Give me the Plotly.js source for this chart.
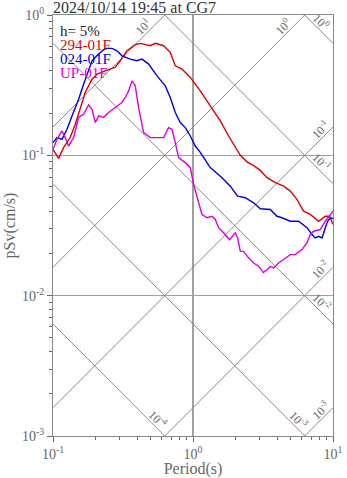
<!DOCTYPE html>
<html>
<head>
<meta charset="utf-8">
<script src="https://cdn.plot.ly/plotly-3.0.1.min.js"></script>
<style>
  html, body { margin: 0; padding: 0; background: #fff; }
  #chart { width: 347px; height: 478px; }
</style>
</head>
<body>
<div id="chart"></div>
<script>
// ---------------- data ----------------
const chartTitle = "2024/10/14 19:45 at CG7";
const dampingText = "h= 5%";
const seriesNames = ["294-01F", "024-01F", "UP-01F"];

const period294 = [0.100,0.1096,0.1190,0.1329,0.1443,0.1567,0.1701,0.1900,0.2062,0.2364,0.2786,0.3024,0.3378,0.387,0.420,0.4955,0.538,0.6166,0.688,0.747,0.8344,0.9565,1.127,1.329,1.567,1.796,2.005,2.177,2.431,2.696,3.024,3.378,3.871,4.437,4.955,5.533,6.166,6.884,7.891,8.81,9.456,10.0];
const sv294     = [0.1104,0.0952,0.1135,0.1345,0.1665,0.2202,0.2818,0.349,0.379,0.400,0.425,0.472,0.556,0.614,0.628,0.604,0.628,0.604,0.5417,0.4344,0.4114,0.359,0.288,0.2250,0.1758,0.1373,0.1135,0.100,0.0899,0.0848,0.0781,0.0693,0.0638,0.0603,0.0556,0.0485,0.0400,0.0379,0.0339,0.0368,0.0368,0.0321];

const period024 = [0.100,0.1068,0.1159,0.1259,0.1367,0.1524,0.1654,0.1796,0.19,0.2117,0.2364,0.2638,0.2865,0.311,0.3565,0.398,0.432,0.4818,0.5533,0.634,0.688,0.747,0.8115,0.881,0.9565,1.038,1.127,1.259,1.329,1.611,1.846,2.083,2.364,2.709,3.024,3.565,3.981,4.32,4.955,5.68,6.52,7.08,7.47,7.891,8.344,8.81,9.15,9.565,10.0];
const sv024     = [0.1232,0.1338,0.1301,0.1533,0.1909,0.2512,0.3213,0.4114,0.472,0.5266,0.578,0.578,0.556,0.512,0.485,0.472,0.485,0.4467,0.3684,0.3126,0.2583,0.2018,0.1713,0.1577,0.1373,0.1165,0.1051,0.0887,0.0817,0.0693,0.0603,0.0512,0.0499,0.0459,0.0416,0.0411,0.0368,0.0359,0.0339,0.0339,0.0305,0.0273,0.0258,0.0265,0.0258,0.0305,0.0339,0.0359,0.0355];

const periodUP = [0.100,0.1068,0.1159,0.1224,0.1292,0.1403,0.1524,0.1654,0.1796,0.19,0.2005,0.2117,0.2298,0.2495,0.2786,0.311,0.3284,0.3467,0.3666,0.387,0.4087,0.4437,0.4955,0.5533,0.6166,0.669,0.708,0.747,0.789,0.881,0.9565,1.01,1.068,1.159,1.259,1.367,1.443,1.524,1.654,1.826,2.005,2.083,2.177,2.298,2.495,2.709,2.942,3.178,3.378,3.565,3.765,4.087,4.437,4.955,5.38,6.0,6.52,6.884,7.27,8.115,8.81,9.456,10.0];
const svUP     = [0.1104,0.1301,0.1492,0.1338,0.1165,0.1338,0.186,0.1963,0.2287,0.2131,0.1713,0.1909,0.186,0.2018,0.2191,0.2379,0.2583,0.288,0.3394,0.3126,0.2191,0.1453,0.1338,0.1338,0.1338,0.1577,0.1533,0.1232,0.0963,0.0887,0.0817,0.0621,0.0499,0.0379,0.0359,0.0368,0.0349,0.0305,0.0281,0.0251,0.0281,0.0258,0.0207,0.0207,0.0186,0.0171,0.0162,0.0146,0.0153,0.0162,0.0158,0.0171,0.0181,0.0196,0.0196,0.0213,0.0238,0.0273,0.0288,0.0296,0.0339,0.0373,0.0400];

// tripartite reference levels
const dispLevels = [1e-4, 1e-3, 1e-2, 1e-1, 1];      // displacement (cm)
const dispLabels = ["10<sup>-4</sup>","10<sup>-3</sup>","10<sup>-2</sup>","10<sup>-1</sup>","10<sup>0</sup>"];
const accLevels  = [1e-3, 1e-2, 1e-1, 1, 10];       // acceleration
const accLabels  = ["10<sup>-3</sup>","10<sup>-2</sup>","10<sup>-1</sup>","10<sup>0</sup>","10<sup>1</sup>"];

const xTickVals = [0.1, 1, 10];
const xTickText = ["10<sup>-1</sup>","10<sup>0</sup>","10<sup>1</sup>"];
const yTickVals = [0.001, 0.01, 0.1, 1];
const yTickText = ["10<sup>-3</sup>","10<sup>-2</sup>","10<sup>-1</sup>","10<sup>0</sup>"];

// ---------------- build ----------------
const FONT = '"Liberation Serif", "Times New Roman", "DejaVu Serif", serif';
const TWO_PI = 2 * Math.PI;
const TMIN = 0.1, TMAX = 10, SVMIN = 0.001, SVMAX = 1;
const DEC_PX = 140; // approx pixels per decade

function minorVals(lo, hi) {
  const out = [];
  for (let d = lo; d < hi; d *= 10) for (let k = 2; k <= 9; k++) out.push(d * k);
  return out;
}

const traces = [];
const annotations = [];
const diagColor = '#8a8a8a';

// displacement lines: Sv = 2*pi*D / T
dispLevels.forEach((D, i) => {
  traces.push({ x: [TMIN, TMAX], y: [TWO_PI * D / TMIN, TWO_PI * D / TMAX], mode: 'lines',
    line: { color: diagColor, width: 1 }, hoverinfo: 'skip', showlegend: false });
  const tBottom = TWO_PI * D / SVMIN;
  const hitsRight = tBottom > TMAX;
  const tEnd = Math.min(TMAX, tBottom);
  const back = (hitsRight ? 17 : 11.5) / DEC_PX;
  const t = tEnd * Math.pow(10, -back);
  annotations.push({ x: Math.log10(t), y: Math.log10(TWO_PI * D / t), xref: 'x', yref: 'y',
    text: dispLabels[i], showarrow: false, textangle: 45, xshift: 5, yshift: 5,
    font: { family: FONT, size: 12, color: '#666' } });
});

// acceleration lines: Sv = A * T / (2*pi)
accLevels.forEach((A, i) => {
  traces.push({ x: [TMIN, TMAX], y: [A * TMIN / TWO_PI, A * TMAX / TWO_PI], mode: 'lines',
    line: { color: diagColor, width: 1 }, hoverinfo: 'skip', showlegend: false });
  const tTop = TWO_PI * SVMAX / A;
  const hitsTop = tTop < TMAX;
  const tEnd = Math.min(TMAX, tTop);
  const back = (hitsTop ? 16.5 : 7.5) / DEC_PX;
  const t = tEnd * Math.pow(10, -back);
  annotations.push({ x: Math.log10(t), y: Math.log10(A * t / TWO_PI), xref: 'x', yref: 'y',
    text: accLabels[i], showarrow: false, textangle: -45, xshift: -5, yshift: 5,
    font: { family: FONT, size: 12, color: '#666' } });
});

const colors = ['#dd0000', '#0000dd', '#dd00dd'];
[[period294, sv294], [period024, sv024], [periodUP, svUP]].forEach((s, i) => {
  traces.push({ x: s[0], y: s[1], mode: 'lines', name: seriesNames[i],
    line: { color: colors[i], width: 1.4 }, showlegend: false });
});

// legend-like texts in the upper-left corner
const legendTexts = [dampingText].concat(seriesNames);
const legendColors = ['#222'].concat(colors);
legendTexts.forEach((t, i) => {
  annotations.push({ xref: 'paper', yref: 'paper', x: 5 / 280, xanchor: 'left',
    y: (436 - (30.5 + 14.2 * i)) / 421, yanchor: 'middle', text: t, showarrow: false,
    font: { family: FONT, size: 15, color: legendColors[i] } });
});

const axisCommon = {
  type: 'log', showline: true, mirror: true, linecolor: '#888', linewidth: 1,
  showgrid: true, gridcolor: '#a0a0a0', gridwidth: 1.4, zeroline: false,
  ticks: 'outside', ticklen: 5, tickcolor: '#666', tickwidth: 1,
  tickfont: { family: FONT, size: 14, color: '#666' }, tickmode: 'array'
};

const layout = {
  width: 347, height: 478,
  margin: { l: 53, r: 14, t: 15, b: 42 },
  paper_bgcolor: '#fff', plot_bgcolor: '#fff',
  font: { family: FONT },
  title: { text: chartTitle, x: 53 / 347, xref: 'container', xanchor: 'left',
    y: 1 - 12.5 / 478, yref: 'container', yanchor: 'bottom',
    font: { family: FONT, size: 16, color: '#333' } },
  xaxis: Object.assign({}, axisCommon, {
    range: [-1, 1], tickvals: xTickVals, ticktext: xTickText,
    minor: { tickmode: 'array', tickvals: minorVals(0.1, 10), ticks: 'outside', ticklen: 3, tickcolor: '#666', showgrid: false },
    title: { text: 'Period(s)', standoff: 7, font: { family: FONT, size: 16, color: '#666' } }
  }),
  yaxis: Object.assign({}, axisCommon, {
    range: [-3, 0], tickvals: yTickVals, ticktext: yTickText,
    minor: { tickmode: 'array', tickvals: minorVals(0.001, 1), ticks: 'outside', ticklen: 3, tickcolor: '#666', showgrid: false },
    title: { text: 'pSv(cm/s)', standoff: 2, font: { family: FONT, size: 16, color: '#666' } }
  }),
  annotations: annotations,
  showlegend: false
};

Plotly.newPlot('chart', traces, layout, { displayModeBar: false, staticPlot: true });
</script>
</body>
</html>
